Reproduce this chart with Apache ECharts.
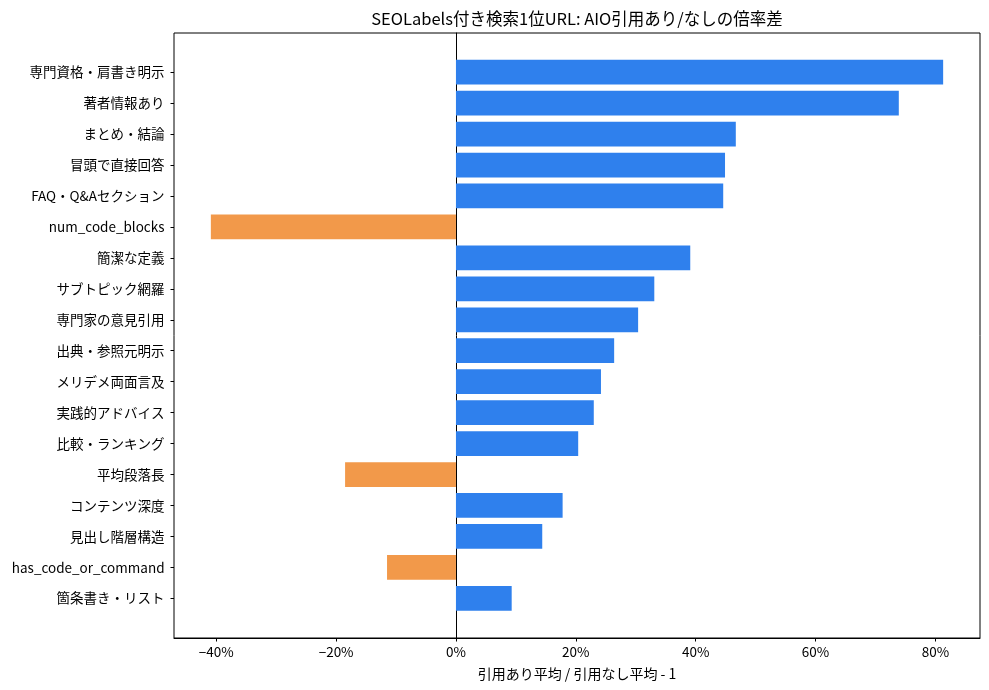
<!DOCTYPE html>
<html>
<head>
<meta charset="utf-8">
<script src="https://cdn.jsdelivr.net/npm/echarts@6/dist/echarts.min.js"></script>
<style>
  html, body { margin: 0; padding: 0; background: #fff; }
  #chart { width: 989px; height: 690px; }
</style>
</head>
<body>
<div id="chart"></div>
<script>
var FONT = '"Noto Sans CJK JP", "Noto Sans", sans-serif';

// data (top to bottom)
var labels = [
    '専門資格・肩書き明示', '著者情報あり', 'まとめ・結論', '冒頭で直接回答',
    'FAQ・Q&Aセクション', 'num_code_blocks', '簡潔な定義', 'サブトピック網羅',
    '専門家の意見引用', '出典・参照元明示', 'メリデメ両面言及', '実践的アドバイス',
    '比較・ランキング', '平均段落長', 'コンテンツ深度', '見出し階層構造',
    'has_code_or_command', '箇条書き・リスト'
];
var ratios = [
    81.3, 73.9, 46.7, 44.9, 44.6, -40.9, 39.1, 33.1,
    30.4, 26.4, 24.2, 23.0, 20.4, -18.5, 17.8, 14.4,
    -11.5, 9.3
];
var xTicks = [-40, -20, 0, 20, 40, 60, 80];
var titleText = 'SEOLabels付き検索1位URL: AIO引用あり/なしの倍率差';
var xName = '引用あり平均 / 引用なし平均 - 1';

var xMin = -47.05, xMax = 87.45;
var posColor = '#2F80ED', negColor = '#F2994A';

function pct(v) {
    return (v < 0 ? '\u2212' : '') + Math.abs(v) + '%';
}

var chart = echarts.init(document.getElementById('chart'));
var option = {
    backgroundColor: '#fff',
    animation: false,
    textStyle: { fontFamily: FONT },
    graphic: [{
        type: 'text',
        x: 577, y: 19,
        style: { text: titleText, fontSize: 16.5, fontFamily: FONT, fill: '#000', align: 'center', verticalAlign: 'middle' }
    }],
    grid: [
        // frame grid (box, bottom axis, zero line)
        { left: 174, right: 9, top: 33, bottom: 52, show: true, borderColor: '#000', borderWidth: 1, backgroundColor: 'transparent' },
        // bars grid
        { left: 174, right: 9, top: 56.7, bottom: 76.2 }
    ],
    xAxis: [
        {
            gridIndex: 0, type: 'value', min: xMin, max: xMax,
            name: xName, nameLocation: 'middle', nameGap: 29,
            nameTextStyle: { fontSize: 14, color: '#000', fontFamily: FONT },
            axisLine: { show: true, onZero: false, lineStyle: { color: '#000', width: 1 } },
            axisTick: { show: true, length: 3.5, customValues: xTicks, lineStyle: { color: '#000' } },
            axisLabel: { customValues: xTicks, formatter: pct, fontSize: 13.5, color: '#000', margin: 7, fontFamily: FONT },
            splitLine: { show: false }
        },
        {
            gridIndex: 1, type: 'value', min: xMin, max: xMax,
            axisLine: { show: false }, axisTick: { show: false }, axisLabel: { show: false },
            splitLine: { show: false }
        }
    ],
    yAxis: [
        {
            gridIndex: 0, type: 'value', min: 0, max: 1,
            axisLine: { show: true, onZero: true, lineStyle: { color: '#000', width: 1 } },
            axisTick: { show: false }, axisLabel: { show: false }, splitLine: { show: false }
        },
        {
            gridIndex: 1, type: 'category', data: labels, inverse: true, position: 'left',
            axisLine: { show: false, onZero: false },
            axisTick: { show: true, alignWithLabel: true, length: 3.5, lineStyle: { color: '#000', width: 1 } },
            axisLabel: { fontSize: 13.5, color: '#000', margin: 9.5, fontFamily: FONT },
            splitLine: { show: false }
        }
    ],
    series: [{
        type: 'bar',
        xAxisIndex: 1, yAxisIndex: 1,
        barWidth: '80%',
        data: ratios.map(function (v) {
            return { value: v, itemStyle: { color: v < 0 ? negColor : posColor } };
        }),
        z: 1
    }]
};
chart.setOption(option);
</script>
</body>
</html>
